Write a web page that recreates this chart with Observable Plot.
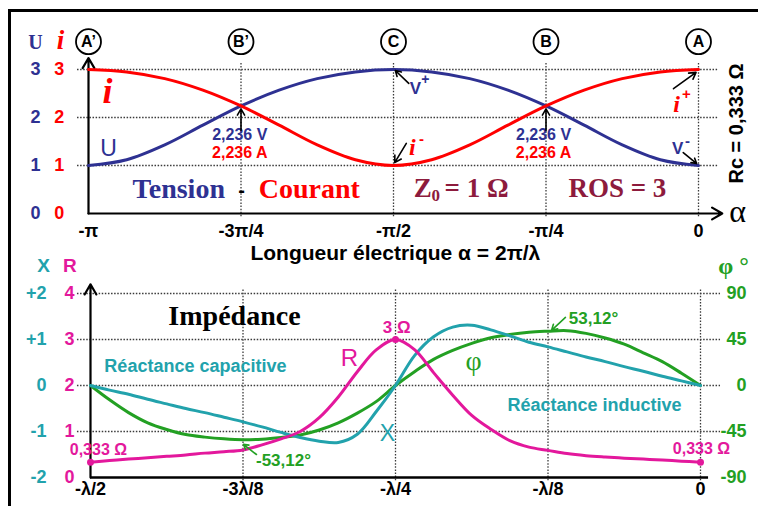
<!DOCTYPE html>
<html><head><meta charset="utf-8">
<script src="https://cdn.jsdelivr.net/npm/d3@7"></script>
<script src="https://cdn.jsdelivr.net/npm/@observablehq/plot@0.6"></script>
<style>
html,body{margin:0;padding:0;background:#fff;width:758px;height:506px;overflow:hidden;}
#wrap{position:relative;width:758px;height:506px;overflow:hidden;}
#wrap svg{position:absolute;left:0;top:0;}
#frame{position:absolute;left:8px;top:9px;width:900px;height:700px;border-left:3px solid #000;border-top:3px solid #000;}
</style></head><body><div id="wrap"><div id="frame"></div></div>
<script>
// ---------- data: top panel (alpha in units of pi) ----------
const alphaPi = [-1, -0.9375, -0.875, -0.8125, -0.75, -0.6875, -0.625, -0.5625, -0.5, -0.4375, -0.375, -0.3125, -0.25, -0.1875, -0.125, -0.0625, 0];
const tensionU = [1, 1.12, 1.43, 1.84, 2.24, 2.57, 2.81, 2.95, 3, 2.95, 2.81, 2.57, 2.24, 1.84, 1.43, 1.12, 1];
const courantI = [3, 2.95, 2.81, 2.57, 2.24, 1.84, 1.43, 1.12, 1, 1.12, 1.43, 1.84, 2.24, 2.57, 2.81, 2.95, 3];
const topTicksX = [-1, -0.75, -0.5, -0.25, 0];
const topTickLabels = ["-π", "-3π/4", "-π/2", "-π/4", "0"];
const topTicksY = [0, 1, 2, 3];
const pointNames = ["A’", "B’", "C", "B", "A"];

// ---------- data: bottom panel (distance in units of lambda) ----------
const distL = [-0.5, -0.4844, -0.4688, -0.4531, -0.4375, -0.4219, -0.4063, -0.3906, -0.375, -0.3594, -0.3438, -0.3281, -0.3125, -0.2969, -0.2813, -0.2656, -0.25, -0.2344, -0.2188, -0.2031, -0.1875, -0.1719, -0.1563, -0.1406, -0.125, -0.1094, -0.0938, -0.0781, -0.0625, -0.0469, -0.0313, -0.0156, 0];
const resistR = [0.333, 0.37, 0.40, 0.43, 0.46, 0.49, 0.53, 0.56, 0.60, 0.71, 0.84, 1.0, 1.30, 1.75, 2.30, 2.78, 3.0, 2.78, 2.28, 1.79, 1.35, 1.05, 0.80, 0.66, 0.59, 0.52, 0.475, 0.445, 0.42, 0.40, 0.38, 0.355, 0.333];
const reactX = [0, -0.10, -0.19, -0.30, -0.40, -0.50, -0.59, -0.69, -0.79, -0.90, -1.02, -1.13, -1.21, -1.24, -1.06, -0.56, 0, 0.65, 1.06, 1.27, 1.31, 1.21, 1.08, 0.94, 0.84, 0.73, 0.62, 0.52, 0.41, 0.31, 0.20, 0.10, 0];
const phaseDeg = [0, -14, -26.5, -36.5, -43, -48, -50.5, -52.2, -53.1, -52.5, -50.8, -48.4, -43.5, -36.5, -27, -15.5, 0, 13.5, 25.5, 34.3, 41.2, 46.7, 50, 52.2, 53.1, 53.6, 51, 46.5, 40.5, 32, 23.3, 12, 0];
const botTicksX = [-0.5, -0.375, -0.25, -0.125, 0];
const botTickLabels = ["-λ/2", "-3λ/8", "-λ/4", "-λ/8", "0"];
const rTicks = [0, 1, 2, 3, 4];
const xTickLabels = ["-2", "-1", "0", "+1", "+2"];
const phiTickLabels = ["-90", "-45", "0", "45", "90"];
const endPointsR = [[-0.5, 0.333], [-0.25, 3.0], [0, 0.333]];

// ---------- style ----------
const SANS = "Liberation Sans, Arial, sans-serif";
const SERIF = "Liberation Serif, Times New Roman, serif";
const BLUE = "#2e3192", RED = "#ff0000", MAG = "#e3189c", TEAL = "#22a2ac", GREEN = "#23a023", MAROON = "#8d1b3d";
const GRID = {stroke: "#3a3a3a", strokeWidth: 1.3, strokeDasharray: "1.5,1.6"};
const note = (x, y, str, o = {}) => Plot.text([str], {x, y, text: d => d, fontFamily: SANS, fontSize: 18, fontWeight: "bold", fill: "black", ...o});
const arr = (x1, y1, x2, y2, color = "black") => Plot.arrow([0], {x1, y1, x2, y2, stroke: color, strokeWidth: 1.6, headLength: 7});

const topRows = alphaPi.map((a, i) => ({a, U: tensionU[i], I: courantI[i]}));
const botRows = distL.map((d, i) => ({d, R: resistR[i], X: reactX[i], phi: phaseDeg[i]}));

const wrap = document.getElementById("wrap");

// ---------- top plot ----------
const topPlot = Plot.plot({
  width: 758, height: 506,
  marginLeft: 88, marginRight: 60, marginTop: 69, marginBottom: 293,
  x: {domain: [-1, 0], axis: null},
  y: {domain: [0, 3], axis: null},
  style: {background: "transparent", overflow: "visible", fontFamily: SANS},
  marks: [
    Plot.ruleY([1, 2, 3], {x1: -1.018, x2: 0.033, ...GRID}),
    Plot.ruleX([-0.75, -0.5, -0.25, 0], {y1: -0.07, y2: 3.15, ...GRID}),
    Plot.arrow([0], {x1: -1, y1: 0, x2: -1, y2: 3.24, stroke: "black", strokeWidth: 2.2, headLength: 8}),
    Plot.arrow([0], {x1: -1, y1: 0, x2: 0.039, y2: 0, stroke: "black", strokeWidth: 2.2, headLength: 8}),
    Plot.line(topRows, {x: "a", y: "U", stroke: BLUE, strokeWidth: 3, curve: "catmull-rom"}),
    Plot.line(topRows, {x: "a", y: "I", stroke: RED, strokeWidth: 3, curve: "catmull-rom"}),
    Plot.dot(topTicksX, {x: d => d, y: 3.58, r: 12.5, stroke: "black", strokeWidth: 1.8, fill: "white"}),
    Plot.text(topTicksX, {x: d => d, y: 3.58, text: (d, i) => pointNames[i], fontSize: 16, fontWeight: "bold", fontFamily: SANS}),
    Plot.text(topTicksX, {x: d => d, y: -0.37, text: (d, i) => topTickLabels[i], fontSize: 18, fontWeight: "bold", fontFamily: SANS}),
    Plot.text(topTicksY, {x: -1.087, y: d => d, text: d => String(d), fill: BLUE, fontSize: 18, fontWeight: "bold", fontFamily: SANS}),
    Plot.text(topTicksY, {x: -1.048, y: d => d, text: d => String(d), fill: RED, fontSize: 18, fontWeight: "bold", fontFamily: SANS}),
    note(-1.087, 3.56, "U", {fill: BLUE, fontFamily: SERIF, fontSize: 20}),
    note(-1.046, 3.6, "i", {fill: RED, fontFamily: SERIF, fontSize: 27, fontStyle: "italic"}),
    note(-0.497, -0.83, "Longueur électrique α = 2π/λ", {fontSize: 21}),
    note(0.064, 0.04, "α", {fontFamily: SERIF, fontSize: 32, fontWeight: "normal"}),
    note(0.0623, 1.875, "Rc = 0,333 Ω", {fontSize: 20, rotate: -90}),
    note(-0.969, 2.54, "i", {fill: RED, fontFamily: SERIF, fontSize: 36, fontStyle: "italic"}),
    note(-0.967, 1.35, "U", {fill: BLUE, fontSize: 23, fontWeight: "normal"}),
    note(-0.752, 1.63, "2,236 V", {fill: BLUE, fontSize: 16}),
    note(-0.752, 1.27, "2,236 A", {fill: RED, fontSize: 16}),
    note(-0.254, 1.63, "2,236 V", {fill: BLUE, fontSize: 16}),
    note(-0.254, 1.27, "2,236 A", {fill: RED, fontSize: 16}),
    arr(-0.75, 1.73, -0.75, 2.18),
    arr(-0.25, 1.73, -0.25, 2.18),
    note(-0.852, 0.52, "Tension", {fill: BLUE, fontFamily: SERIF, fontSize: 28}),
    note(-0.749, 0.48, "-", {fontSize: 20}),
    note(-0.638, 0.52, "Courant", {fill: RED, fontFamily: SERIF, fontSize: 28}),
    note(-0.467, 0.52, "Z", {fill: MAROON, fontFamily: SERIF, fontSize: 27, textAnchor: "start"}),
    note(-0.4377, 0.37, "0", {fill: MAROON, fontFamily: SERIF, fontSize: 17, textAnchor: "start"}),
    note(-0.4164, 0.52, "= 1 Ω", {fill: MAROON, fontFamily: SERIF, fontSize: 27, textAnchor: "start"}),
    note(-0.133, 0.52, "ROS = 3", {fill: MAROON, fontFamily: SERIF, fontSize: 27}),
    note(-0.464, 2.60, "V", {fill: BLUE, fontSize: 17}),
    note(-0.448, 2.79, "+", {fill: BLUE, fontSize: 14}),
    arr(-0.475, 2.71, -0.497, 2.98),
    note(-0.469, 1.375, "i", {fill: RED, fontFamily: SERIF, fontSize: 24, fontStyle: "italic"}),
    note(-0.454, 1.54, "-", {fill: RED, fontSize: 15}),
    arr(-0.479, 1.46, -0.498, 1.06),
    note(-0.036, 2.27, "i", {fill: RED, fontFamily: SERIF, fontSize: 24, fontStyle: "italic"}),
    note(-0.020, 2.48, "+", {fill: RED, fontSize: 15}),
    arr(-0.041, 2.60, -0.004, 2.94),
    note(-0.034, 1.35, "V", {fill: BLUE, fontSize: 17}),
    note(-0.018, 1.50, "-", {fill: BLUE, fontSize: 15}),
    arr(-0.025, 1.27, -0.003, 1.04)
  ]
});
wrap.appendChild(topPlot);

// ---------- bottom plot ----------
const botPlot = Plot.plot({
  width: 758, height: 506,
  marginLeft: 90, marginRight: 58, marginTop: 293, marginBottom: 29,
  x: {domain: [-0.5, 0], axis: null},
  y: {domain: [0, 4], axis: null},
  style: {background: "transparent", overflow: "visible", fontFamily: SANS},
  marks: [
    Plot.ruleY([1, 2, 3, 4], {x1: -0.5107, x2: 0.0164, ...GRID}),
    Plot.ruleX([-0.375, -0.25, -0.125, 0], {y1: -0.07, y2: 4.1, ...GRID}),
    Plot.arrow([0], {x1: -0.5, y1: 0, x2: -0.5, y2: 4.2, stroke: "black", strokeWidth: 2.2, headLength: 8}),
    Plot.ruleY([0], {x1: -0.5, x2: 0.0066, stroke: "black", strokeWidth: 2.5}),
    Plot.line(botRows, {x: "d", y: d => d.phi / 45 + 2, stroke: GREEN, strokeWidth: 3, curve: "catmull-rom"}),
    Plot.line(botRows, {x: "d", y: d => d.X + 2, stroke: TEAL, strokeWidth: 3, curve: "catmull-rom"}),
    Plot.line(botRows, {x: "d", y: "R", stroke: MAG, strokeWidth: 3, curve: "catmull-rom"}),
    Plot.dot(endPointsR, {x: d => d[0], y: d => d[1], r: 3.5, fill: MAG}),
    Plot.text(botTicksX, {x: d => d, y: -0.26, text: (d, i) => botTickLabels[i], fontSize: 18, fontWeight: "bold", fontFamily: SANS}),
    Plot.text(rTicks, {x: -0.5361, y: d => d, text: (d, i) => xTickLabels[i], fill: TEAL, fontSize: 18, fontWeight: "bold", fontFamily: SANS, textAnchor: "end"}),
    Plot.text(rTicks, {x: -0.5172, y: d => d, text: d => String(d), fill: MAG, fontSize: 18, fontWeight: "bold", fontFamily: SANS}),
    Plot.text(rTicks, {x: 0.0377, y: d => d, text: (d, i) => phiTickLabels[i], fill: GREEN, fontSize: 18, fontWeight: "bold", fontFamily: SANS, textAnchor: "end"}),
    note(-0.5385, 4.59, "X", {fill: TEAL, fontSize: 19}),
    note(-0.517, 4.59, "R", {fill: MAG, fontSize: 19}),
    note(0.027, 4.59, "φ °", {fill: GREEN, fontFamily: SERIF, fontSize: 24}),
    note(-0.382, 3.5, "Impédance", {fontFamily: SERIF, fontSize: 28}),
    note(-0.414, 2.41, "Réactance capacitive", {fill: TEAL, fontSize: 18}),
    note(-0.0869, 1.57, "Réactance inductive", {fill: TEAL, fontSize: 18}),
    note(-0.2877, 2.59, "R", {fill: MAG, fontSize: 24, fontWeight: "normal"}),
    note(-0.249, 3.26, "3 Ω", {fill: MAG, fontSize: 17}),
    note(-0.2566, 0.96, "X", {fill: TEAL, fontSize: 23, fontWeight: "normal"}),
    note(-0.186, 2.54, "φ", {fill: GREEN, fontFamily: SERIF, fontSize: 28, fontWeight: "normal"}),
    note(-0.0877, 3.46, "53,12°", {fill: GREEN, fontSize: 17}),
    arr(-0.1107, 3.48, -0.1221, 3.20, GREEN),
    note(-0.3418, 0.37, "-53,12°", {fill: GREEN, fontSize: 17}),
    arr(-0.364, 0.50, -0.3746, 0.72, GREEN),
    note(-0.4935, 0.6, "0,333 Ω", {fill: MAG, fontSize: 16}),
    note(0.0008, 0.62, "0,333 Ω", {fill: MAG, fontSize: 16})
  ]
});
wrap.appendChild(botPlot);
</script></body></html>
